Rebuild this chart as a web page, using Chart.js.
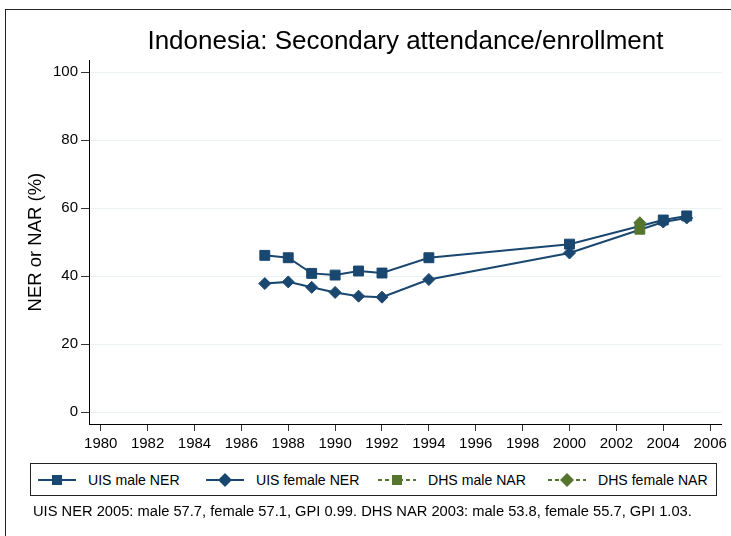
<!DOCTYPE html>
<html>
<head>
<meta charset="utf-8">
<script src="https://cdn.jsdelivr.net/npm/chart.js@4/dist/chart.umd.min.js"></script>
<style>
  body { margin: 0; background: #fff; font-family: "Liberation Sans", Arial, sans-serif; }
  #wrap { position: relative; width: 731px; height: 536px; overflow: hidden; background: #fff; }
  #frame { position: absolute; left: 5px; top: 9px; width: 900px; height: 900px;
           border-left: 1px solid #222; border-top: 1px solid #222; }
  #chartBox { position: absolute; left: 0; top: 0; width: 731px; height: 536px; }
  #legend { position: absolute; left: 30px; top: 463px; width: 685px; height: 31px;
            border: 1px solid #222; background: #fff; }
  .item { position: absolute; top: 0; height: 31px; display: flex; align-items: center;
          font-size: 14.1px; color: #000; white-space: nowrap; }
  .item svg { margin-right: 12px; }
  #note { position: absolute; left: 33px; top: 503px; font-size: 14.7px; color: #000; white-space: nowrap; }
</style>
</head>
<body>
<div id="wrap">
  <div id="frame"></div>
  <div id="chartBox"><canvas id="chart"></canvas></div>
  <div id="legend"></div>
  <div id="note">UIS NER 2005: male 57.7, female 57.1, GPI 0.99. DHS NAR 2003: male 53.8, female 55.7, GPI 1.03.</div>
</div>
<script>
// values
const years = [1987, 1988, 1989, 1990, 1991, 1992, 1994, 2000, 2004, 2005];
const uisMale = [46.1, 45.4, 40.8, 40.3, 41.5, 40.9, 45.4, 49.4, 56.5, 57.7];
const uisFemale = [37.8, 38.3, 36.7, 35.2, 34.1, 33.8, 39.0, 46.8, 55.9, 57.1];
const dhsYears = [2003];
const dhsMale = [53.8];
const dhsFemale = [55.7];

const xTicks = [1980, 1982, 1984, 1986, 1988, 1990, 1992, 1994, 1996, 1998, 2000, 2002, 2004, 2006];
const yTicks = [0, 20, 40, 60, 80, 100];

const seriesNames = ['UIS male NER', 'UIS female NER', 'DHS male NAR', 'DHS female NAR'];

const navy = '#1a476f';
const green = '#55752f';
const fontFamily = '"Liberation Sans", Arial, sans-serif';

const toPoints = (xs, ys) => xs.map((x, i) => ({ x: x, y: ys[i] }));

// html legend, one entry per series
const legendSpec = [
  { left: 7, color: navy, shape: 'square', dash: false },
  { left: 175, color: navy, shape: 'diamond', dash: false },
  { left: 347, color: green, shape: 'square', dash: true },
  { left: 517, color: green, shape: 'diamond', dash: true },
];
const legendEl = document.getElementById('legend');
legendSpec.forEach((s, i) => {
  const marker = s.shape === 'square'
    ? `<rect x="14" y="2" width="10" height="10" fill="${s.color}"/>`
    : `<polygon points="19,0 26,7 19,14 12,7" fill="${s.color}"/>`;
  const div = document.createElement('div');
  div.className = 'item';
  div.style.left = s.left + 'px';
  div.innerHTML =
    `<svg width="38" height="14"><line x1="0" y1="7" x2="38" y2="7" stroke="${s.color}" stroke-width="2"` +
    (s.dash ? ' stroke-dasharray="4,3"' : '') + `/>${marker}</svg><span>${seriesNames[i]}</span>`;
  legendEl.appendChild(div);
});

const ctx = document.getElementById('chart').getContext('2d');
new Chart(ctx, {
  type: 'line',
  data: {
    datasets: [
      {
        label: seriesNames[0],
        data: toPoints(years, uisMale),
        borderColor: navy, backgroundColor: navy, borderWidth: 2,
        pointStyle: 'rect', pointRadius: 7, pointBorderWidth: 1,
        order: 3,
      },
      {
        label: seriesNames[1],
        data: toPoints(years, uisFemale),
        borderColor: navy, backgroundColor: navy, borderWidth: 2,
        pointStyle: 'rectRot', pointRadius: 6, pointBorderWidth: 1,
        order: 2,
      },
      {
        label: seriesNames[2],
        data: toPoints(dhsYears, dhsMale),
        borderColor: green, backgroundColor: green, borderWidth: 2, borderDash: [4, 3],
        pointStyle: 'rect', pointRadius: 7, pointBorderWidth: 1,
        order: 1,
      },
      {
        label: seriesNames[3],
        data: toPoints(dhsYears, dhsFemale),
        borderColor: green, backgroundColor: green, borderWidth: 2, borderDash: [4, 3],
        pointStyle: 'rectRot', pointRadius: 6, pointBorderWidth: 1,
        order: 0,
      },
    ],
  },
  options: {
    responsive: true,
    maintainAspectRatio: false,
    animation: false,
    layout: { padding: { top: 21, left: 0, right: 9, bottom: 82 } },
    plugins: {
      legend: { display: false },
      tooltip: { enabled: false },
      title: {
        display: true,
        fullSize: false,
        text: 'Indonesia: Secondary attendance/enrollment',
        color: '#000',
        font: { family: fontFamily, size: 26, weight: 'normal' },
        padding: { top: 5, bottom: 3 },
      },
    },
    scales: {
      x: {
        type: 'linear',
        min: 1979.5,
        max: 2006.5,
        afterBuildTicks: (scale) => { scale.ticks = xTicks.map((v) => ({ value: v })); },
        afterFit: (scale) => { scale.height = 30; },
        grid: { drawOnChartArea: false, tickLength: 7, tickColor: '#333' },
        border: { color: '#000', width: 1 },
        ticks: {
          color: '#000', padding: 4, maxRotation: 0, autoSkip: false,
          font: { family: fontFamily, size: 15 },
          callback: (v) => String(v),
        },
      },
      y: {
        min: -3.5,
        max: 103.5,
        afterBuildTicks: (scale) => { scale.ticks = yTicks.map((v) => ({ value: v })); },
        afterFit: (scale) => { scale.width = 89; },
        grid: { color: '#eaf2f3', lineWidth: 1, tickLength: 8, tickColor: '#333' },
        border: { color: '#000', width: 1 },
        title: {
          display: true,
          text: 'NER or NAR (%)',
          color: '#000',
          font: { family: fontFamily, size: 18.5 },
          padding: { top: 25, bottom: 0 },
        },
        ticks: {
          color: '#000', padding: 3,
          font: { family: fontFamily, size: 15 },
        },
      },
    },
  },
});
</script>
</body>
</html>
